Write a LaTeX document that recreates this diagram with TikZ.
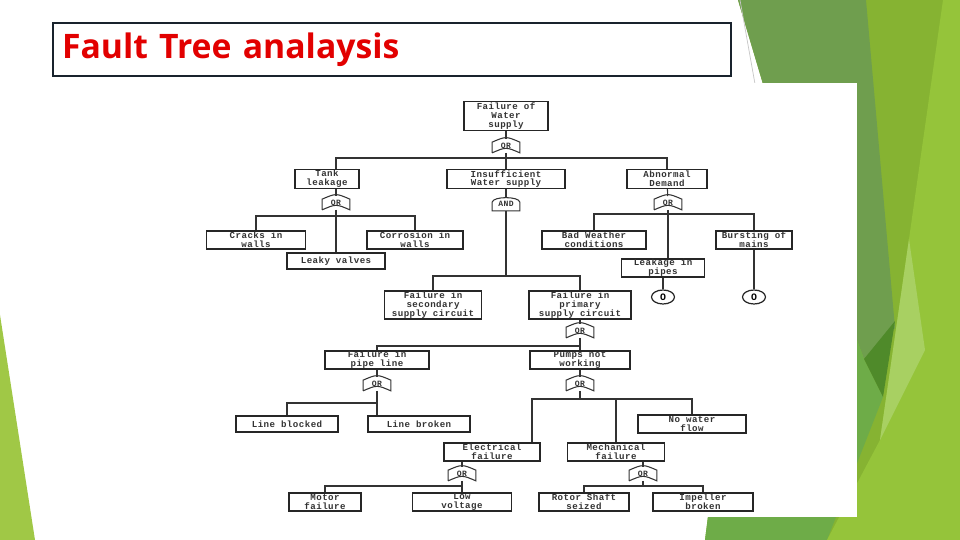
\documentclass[tikz,border=0pt]{standalone}
\usepackage{fontspec}
\newfontfamily\titlefont{Open Sans}
\newfontfamily\boxfont[LetterSpace=5]{Liberation Mono}
\usetikzlibrary{calc,shapes.geometric}
\newlength\pxu
\setlength\pxu{0.02cm}
\definecolor{rosso}{RGB}{226,0,0}
\definecolor{bordo}{RGB}{25,35,45}
\definecolor{verdeOliva}{RGB}{134,179,50}
\definecolor{verdeSpento}{RGB}{111,158,78}
\definecolor{verdeScuro}{RGB}{79,138,42}
\definecolor{verdeVivo}{RGB}{149,196,58}
\definecolor{verdePallido}{RGB}{168,208,98}
\definecolor{verdeMedio}{RGB}{110,172,72}
\definecolor{verdeChiaro}{RGB}{160,200,70}

\begin{document}
\begin{tikzpicture}[
    x=1\pxu, y=-1\pxu,   % coordinate in pixel, asse y verso il basso
    titolo/.style={draw=bordo, line width=0.8pt, minimum height=53\pxu, text width=660\pxu,
        inner xsep=9\pxu, inner ysep=0pt, align=left, text=rosso,
        font=\titlefont\bfseries\fontsize{19.2}{23}\selectfont},
    blocco/.style={draw=black!85, line width=0.7pt, fill=white, align=center, inner sep=0pt,
        text=black!80, font=\boxfont\bfseries\fontsize{5.2}{5}\selectfont},
    wh/.style 2 args={minimum width=#1\pxu, minimum height=#2\pxu},
    linea/.style={draw=black!80, line width=0.6pt},
    porta/.style={inner sep=0pt, minimum width=27\pxu, minimum height=13\pxu,
        text=black!80, font=\boxfont\bfseries\fontsize{4.6}{5}\selectfont},
    portaor/.style={porta, append after command={\pgfextra{
        \draw[linea] (\tikzlastnode.south west) -- ($(\tikzlastnode.north west)+(0,3)$)
            .. controls ($(\tikzlastnode.north)+(0,-3)$) .. ($(\tikzlastnode.north east)+(0,3)$)
            -- (\tikzlastnode.south east)
            .. controls ($(\tikzlastnode.south)+(0,-6)$) .. (\tikzlastnode.south west);}}},
    portaand/.style={porta, append after command={\pgfextra{
        \draw[linea] (\tikzlastnode.south west) -- ($(\tikzlastnode.north west)+(0,5)$)
            .. controls ($(\tikzlastnode.north west)+(1,-1)$) and ($(\tikzlastnode.north east)+(-1,-1)$)
            .. ($(\tikzlastnode.north east)+(0,5)$) -- (\tikzlastnode.south east) -- cycle;}}},
    evento/.style={ellipse, draw=black!85, line width=0.7pt, minimum width=23\pxu,
        minimum height=14\pxu, inner sep=0pt, font=\boxfont\bfseries\fontsize{5.6}{6}\selectfont}
]

    % =========================================================================
    % SFONDO: diapositiva con sfaccettature verdi
    % =========================================================================
    \path[use as bounding box, fill=white] (0,0) rectangle (960,540);

    \fill[verdeChiaro] (0,315) -- (35,540) -- (0,540) -- cycle;
    \fill[verdeOliva] (738,0) -- (960,0) -- (960,540) -- (705,540) -- (763,84) -- cycle;
    \fill[verdeSpento] (738,0) -- (866,0) -- (895,328) -- (864,359) -- (763,84) -- cycle;
    \fill[verdeMedio] (763,84) -- (864,359) -- (883,397) -- (827,540) -- (705,540) -- cycle;
    \fill[verdeScuro] (895,321) -- (864,359) -- (883,397) -- cycle;
    \fill[verdeVivo] (943,0) -- (960,0) -- (960,540) -- (827,540) -- (880,440) -- (909,239) -- cycle;
    \fill[verdePallido] (909,239) -- (925,350) -- (880,440) -- cycle;
    \draw[gray!45, line width=0.4pt] (740,0) -- (755,84);

    % Pannello bianco dello schema
    \fill[white] (200,83) rectangle (857,517);

    % Titolo
    \node[titolo] (title) at (392,49.5) {Fault Tree analaysis};

    % =========================================================================
    % ALBERO DEI GUASTI
    % =========================================================================

    % Evento di vertice
    \node[blocco, wh={84}{29}] (top) at (506,116) {Failure of\\Water\\supply};
    \node[portaor] (g1) at (506,146) {OR};

    % Primo livello
    \node[blocco, wh={64}{19}] (tank) at (327,179) {Tank\\leakage};
    \node[blocco, wh={118}{19}] (insuf) at (506,179) {Insufficient\\Water supply};
    \node[blocco, wh={80}{19}] (abn) at (667,179) {Abnormal\\Demand};

    \node[portaor] (g2) at (336,203) {OR};
    \node[portaand] (g3) at (506,204) {AND};
    \node[portaor] (g4) at (668,203) {OR};

    % Perdite del serbatoio
    \node[blocco, wh={99}{18}] (cracks) at (256,240) {Cracks in\\walls};
    \node[blocco, wh={96}{18}] (corr) at (415,240) {Corrosion in\\walls};
    \node[blocco, wh={98}{16}] (leaky) at (336,261) {Leaky valves};

    % Domanda anomala
    \node[blocco, wh={104}{18}] (bad) at (594,240) {Bad Weather\\conditions};
    \node[blocco, wh={76}{18}] (burst) at (754,240) {Bursting of\\mains};
    \node[blocco, wh={83}{18}] (leak) at (663,268) {Leakage in\\pipes};
    \node[evento] (c1) at (663,297) {O};
    \node[evento] (c2) at (754,297) {O};

    % Alimentazione insufficiente
    \node[blocco, wh={97}{28}] (sec) at (433,305) {Failure in\\secondary\\supply circuit};
    \node[blocco, wh={102}{28}] (prim) at (580,305) {Failure in\\primary\\supply circuit};
    \node[portaor] (g5) at (580,331) {OR};

    \node[blocco, wh={104}{18}] (pipe) at (377,360) {Failure in\\pipe line};
    \node[blocco, wh={100}{18}] (pump) at (580,360) {Pumps not\\working};
    \node[portaor] (g6) at (377,384) {OR};
    \node[portaor] (g7) at (580,384) {OR};

    \node[blocco, wh={102}{16}] (blk) at (287,424) {Line blocked};
    \node[blocco, wh={102}{16}] (brk) at (419,424) {Line broken};
    \node[blocco, wh={108}{18}] (nwf) at (692,424) {No water\\flow};

    \node[blocco, wh={96}{18}] (elec) at (492,452) {Electrical\\failure};
    \node[blocco, wh={97}{18}] (mech) at (616,452) {Mechanical\\failure};
    \node[portaor] (g8) at (462,474) {OR};
    \node[portaor] (g9) at (643,474) {OR};

    \node[blocco, wh={72}{18}] (motor) at (325,502) {Motor\\failure};
    \node[blocco, wh={99}{18}] (low) at (462,502) {Low\\voltage};
    \node[blocco, wh={90}{18}] (rotor) at (584,502) {Rotor Shaft\\seized};
    \node[blocco, wh={100}{18}] (imp) at (703,502) {Impeller\\broken};

    % Punti di diramazione
    \coordinate (b1) at (506,158);
    \coordinate (b2) at (336,216);
    \coordinate (b3) at (506,276);
    \coordinate (b4) at (668,214);
    \coordinate (b5) at (580,346);
    \coordinate (b6) at (377,403);
    \coordinate (b7) at (580,399);
    \coordinate (j7) at (532,399);
    \coordinate (b8) at (462,486);
    \coordinate (b9) at (643,486);

    % Collegamenti
    \draw[linea] (top) -- (g1);
    \draw[linea] (g1) -- (insuf);
    \draw[linea] (tank.north -| g2) |- (b1) -| (abn);

    \draw[linea] (tank.south -| g2) -- (g2);
    \draw[linea] (insuf) -- (g3);
    \draw[linea] (abn) -- (g4);

    \draw[linea] (g2) -- (leaky);
    \draw[linea] (cracks) |- (b2) -| (corr);

    \draw[linea] (g4) -- (g4 |- leak.north);
    \draw[linea] (bad) |- (b4) -| (burst);
    \draw[linea] (leak) -- (c1);
    \draw[linea] (burst) -- (c2);

    \draw[linea] (g3) -- (b3);
    \draw[linea] (sec) |- (b3) -| (prim);
    \draw[linea] (prim) -- (g5);

    \draw[linea] (g5) -- (pump);
    \draw[linea] (pipe) |- (b5);
    \draw[linea] (pipe) -- (g6);
    \draw[linea] (g6) -- (g6 |- brk.north);
    \draw[linea] (blk) |- (b6);

    \draw[linea] (pump) -- (g7);
    \draw[linea] (g7) -- (b7);
    \draw[linea] (j7 |- elec.north) -- (j7) -| (nwf);
    \draw[linea] (mech) -- (mech |- j7);

    \draw[linea] (elec.south -| g8) -- (g8);
    \draw[linea] (g8) -- (low);
    \draw[linea] (motor) |- (b8);

    \draw[linea] (mech.south -| g9) -- (g9);
    \draw[linea] (g9) -- (b9);
    \draw[linea] (rotor) |- (b9) -| (imp);

\end{tikzpicture}
\end{document}
